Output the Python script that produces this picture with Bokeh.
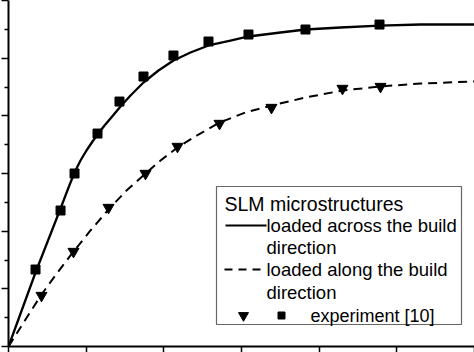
from bokeh.plotting import figure
from bokeh.models import FixedTicker, Range1d, CustomJSTickFormatter
from bokeh.core.properties import value
from bokeh.embed import file_html
from bokeh.resources import INLINE

# ---- data (arbitrary units, labels are cropped) ----
across_x = [0.0, 0.348, 0.670, 0.773, 0.850, 0.927, 1.004, 1.082, 1.146, 1.236, 1.313,
            1.442, 1.571, 1.738, 1.931, 2.124, 2.343, 2.575, 2.858, 3.090, 3.502, 3.824,
            4.275, 4.777, 5.305, 6.0]
across_y = [0.0, 1.283, 2.393, 2.757, 3.017, 3.225, 3.399, 3.555, 3.676, 3.832, 3.954,
            4.162, 4.353, 4.578, 4.786, 4.960, 5.098, 5.220, 5.306, 5.376, 5.445, 5.497,
            5.532, 5.566, 5.584, 5.584]

along_x = [0.0, 0.219, 0.425, 0.631, 0.837, 1.056, 1.288, 1.519, 1.764, 1.957, 2.176,
           2.446, 2.717, 3.052, 3.386, 3.824, 4.301, 4.790, 5.305, 6.0]
along_y = [0.0, 0.468, 0.902, 1.283, 1.647, 2.012, 2.376, 2.705, 3.000, 3.225, 3.451,
           3.676, 3.884, 4.058, 4.179, 4.318, 4.439, 4.509, 4.561, 4.595]

exp_across_x = [0.348, 0.670, 0.850, 1.146, 1.429, 1.738, 2.124, 2.575, 3.090, 3.824, 4.777]
exp_across_y = [1.335, 2.358, 3.000, 3.693, 4.248, 4.682, 5.046, 5.289, 5.410, 5.497, 5.583]

exp_along_x = [0.425, 0.837, 1.288, 1.764, 2.176, 2.717, 3.386, 4.300, 4.790]
exp_along_y = [0.884, 1.647, 2.410, 3.000, 3.468, 3.867, 4.144, 4.474, 4.508]

x_ticks = [0, 1, 2, 3, 4, 5, 6]
y_ticks = [0, 1, 2, 3, 4, 5, 6]
y_minor_ticks = [0.5, 1.5, 2.5, 3.5, 4.5, 5.5]

legend_title = "SLM microstructures"
legend_lines = ["loaded across the build", "direction", "loaded along the build", "direction"]
legend_exp = "experiment [10]"

# ---- layout ----
W, H = 474, 352
LEFT, BOTTOM = 8, 6
FW, FH = W - LEFT, H - BOTTOM
XMIN, XMAX, YMIN, YMAX = 0, 6, 0, 6

def dx(px):
    return XMIN + (px - LEFT) * (XMAX - XMIN) / FW

def dy(py):
    return YMIN + (FH - py) * (YMAX - YMIN) / FH

p = figure(width=W, height=H, output_backend="svg", toolbar_location=None,
           x_range=Range1d(XMIN, XMAX), y_range=Range1d(YMIN, YMAX),
           min_border_left=LEFT, min_border_bottom=BOTTOM,
           min_border_top=0, min_border_right=0)
p.outline_line_color = None
p.grid.visible = False
p.background_fill_color = "white"
p.border_fill_color = "white"

p.xaxis.ticker = FixedTicker(ticks=x_ticks, minor_ticks=[])
p.yaxis.ticker = FixedTicker(ticks=y_ticks, minor_ticks=y_minor_ticks)
p.axis.formatter = CustomJSTickFormatter(code="return ''")
p.axis.major_label_text_font_size = "0px"
p.axis.major_label_standoff = 0
p.axis.axis_line_width = 2
p.axis.axis_line_color = "black"
p.axis.major_tick_line_color = "black"
p.axis.major_tick_line_width = 1.5
p.axis.major_tick_in = 0
p.xaxis.major_tick_out = 6
p.yaxis.major_tick_out = 7
p.yaxis.minor_tick_in = 0
p.yaxis.minor_tick_out = 4
p.yaxis.minor_tick_line_color = "black"
p.yaxis.minor_tick_line_width = 1.5

# ---- curves ----
p.line(across_x, across_y, line_color="black", line_width=2.3, line_join="round")
p.line(along_x, along_y, line_color="black", line_width=2, line_dash="9 6",
       line_join="round")
p.scatter(exp_across_x, exp_across_y, marker="square", size=9, fill_color="black",
          line_color="black")
p.scatter(exp_along_x, exp_along_y, marker="inverted_triangle", size=11,
          fill_color="black", line_color="black")

# ---- legend (drawn manually) ----
p.quad(left=[dx(216)], right=[dx(461)], top=[dy(186)], bottom=[dy(324)],
       fill_color="white", line_color="#666666", line_width=1.2)

font = value("Liberation Sans")
fs = "18.5px"
row_y = [203, 225, 247, 269, 292, 315]
p.text(x=[dx(224)], y=[dy(row_y[0])], text=[legend_title], text_font=font,
       text_font_size="19.5px", text_baseline="middle", text_color="black")
p.text(x=[dx(266)] * 4, y=[dy(v) for v in row_y[1:5]], text=legend_lines,
       text_font=font, text_font_size=fs, text_baseline="middle", text_color="black")
p.text(x=[dx(310)], y=[dy(row_y[5])], text=[legend_exp], text_font=font,
       text_font_size="18px", text_baseline="middle", text_color="black")

p.line([dx(225), dx(266)], [dy(row_y[1])] * 2, line_color="black", line_width=2)
p.line([dx(224), dx(266)], [dy(row_y[3])] * 2, line_color="black", line_width=2,
       line_dash="8 6")
p.scatter([dx(243)], [dy(row_y[5])], marker="inverted_triangle", size=10,
          fill_color="black", line_color="black")
p.scatter([dx(281)], [dy(row_y[5])], marker="square", size=7,
          fill_color="black", line_color="black")

open("out.html", "w").write(file_html(p, INLINE))
